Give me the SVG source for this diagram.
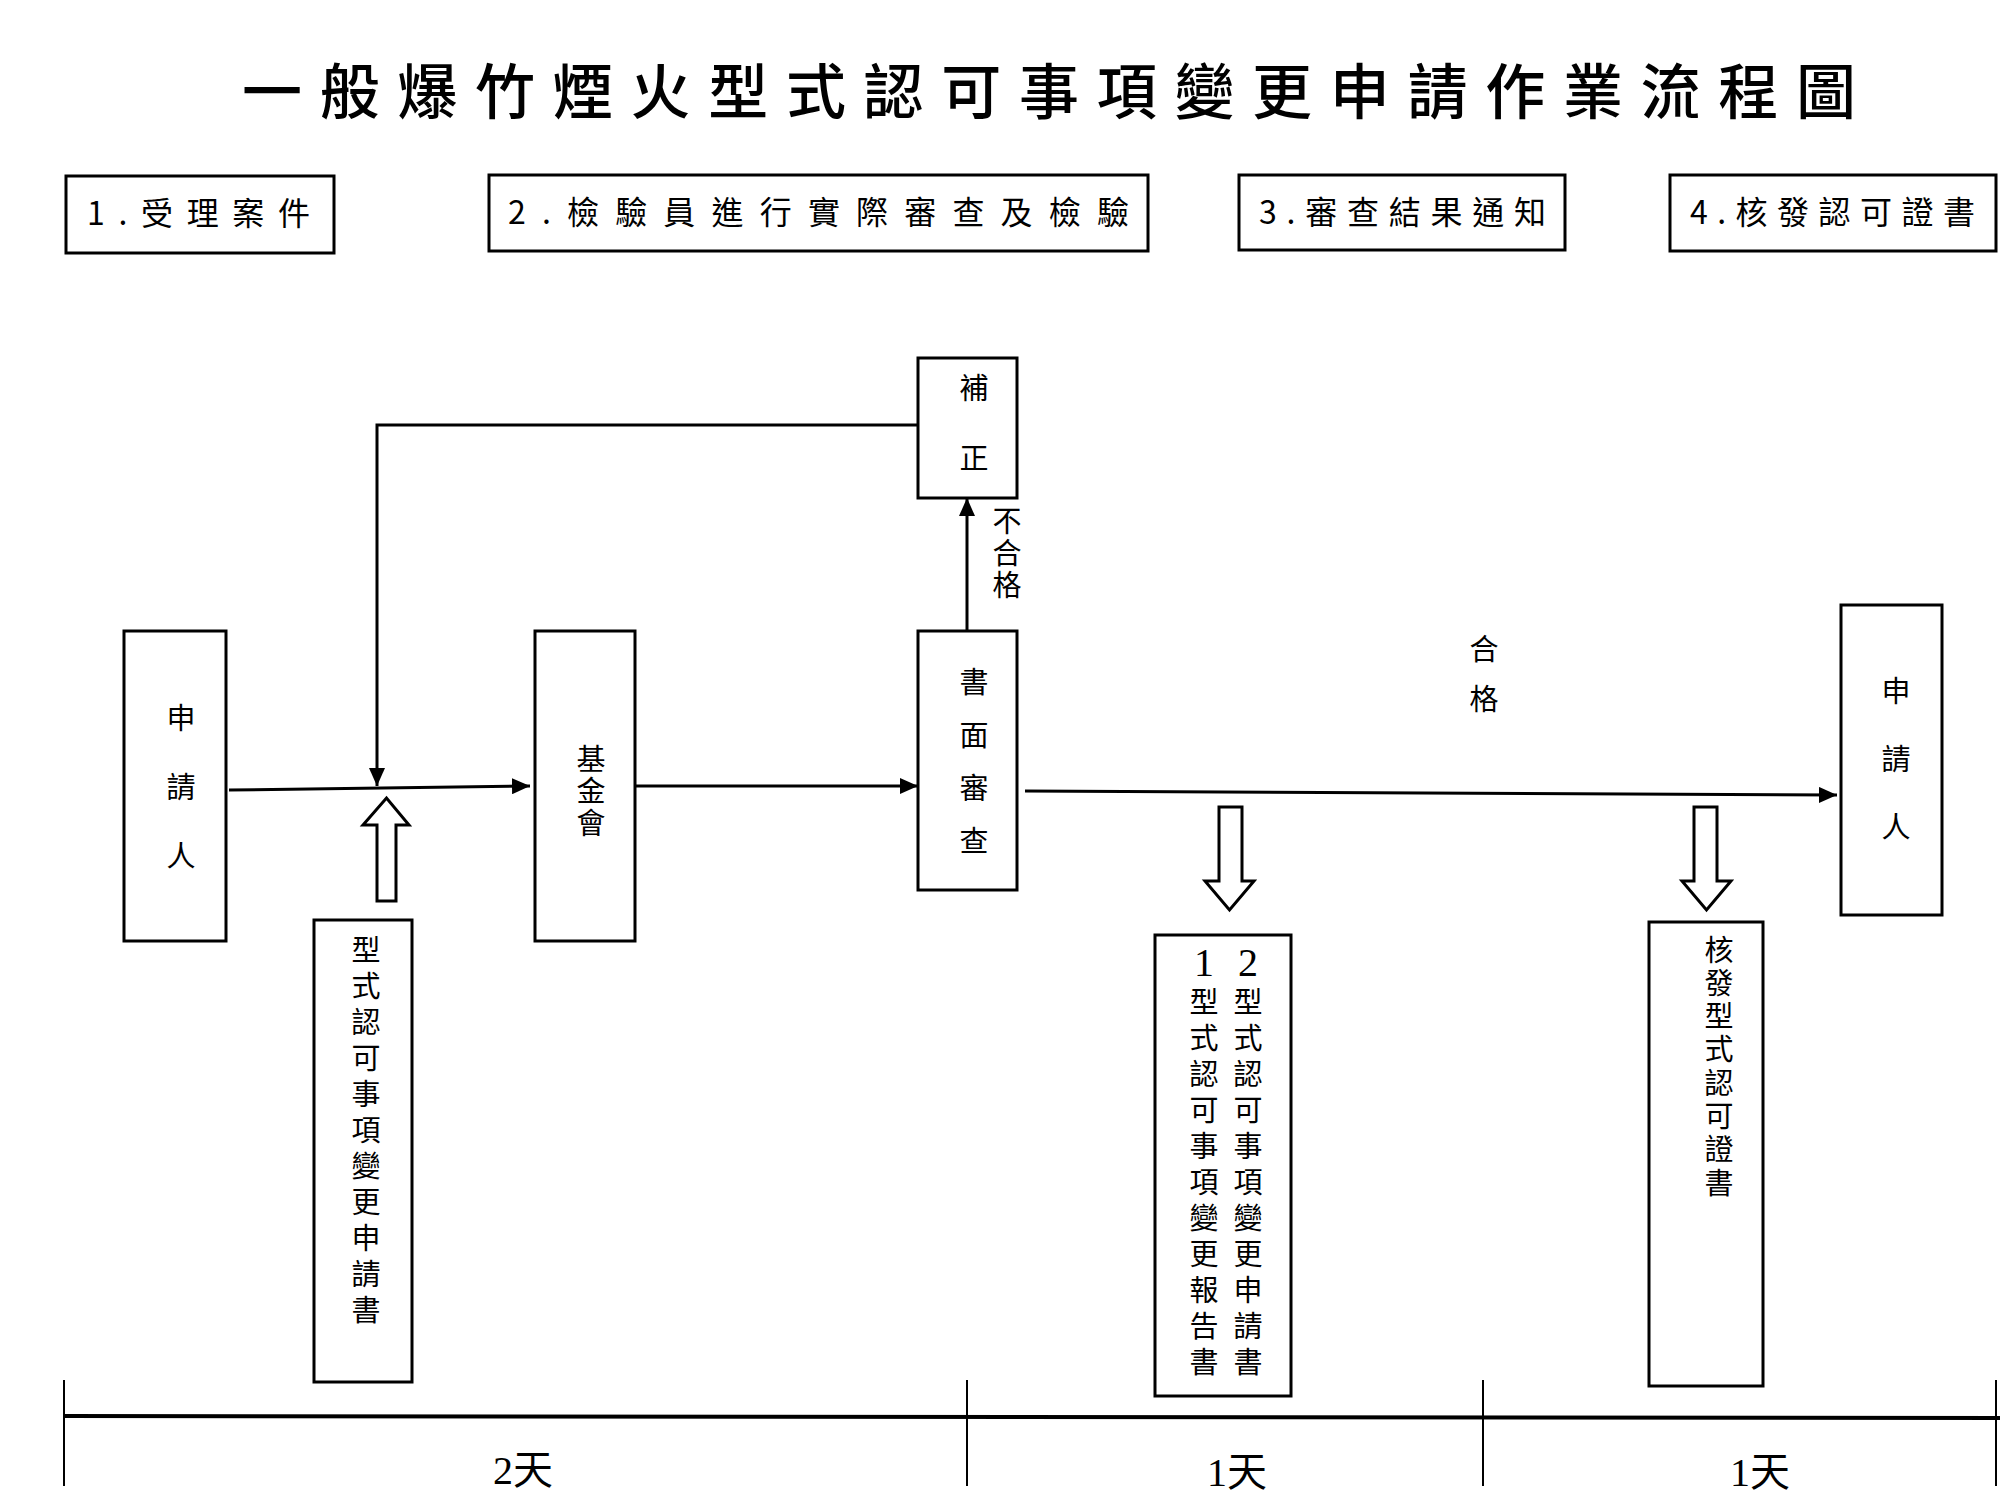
<svg xmlns="http://www.w3.org/2000/svg" width="2000" height="1500" viewBox="0 0 2000 1500">
<style>
text{font-family:"Noto Sans CJK TC","Noto Sans CJK SC",sans-serif;fill:#000}
.box{fill:#fff;stroke:#000;stroke-width:3}
.hdr{font-size:32px}
.vt{font-size:29px;writing-mode:vertical-rl;text-orientation:upright}
.ln{fill:none;stroke:#000;stroke-width:3}
.hollow{fill:#fff;stroke:#000;stroke-width:3;stroke-linejoin:miter}
.num{font-family:"Liberation Serif",serif}
.day{font-size:40px;text-anchor:middle}
</style>
<defs>
<marker id="ah" viewBox="0 0 18 16" refX="18" refY="8" markerWidth="18" markerHeight="16" markerUnits="userSpaceOnUse" orient="auto">
<path d="M0,0 L18,8 L0,16 Z" fill="#000"/>
</marker>
</defs>
<rect width="2000" height="1500" fill="#fff"/>

<g id="title">
<text x="242" y="114" font-size="60" font-weight="500" textLength="1614" lengthAdjust="spacing">一般爆竹煙火型式認可事項變更申請作業流程圖</text>
</g>

<g id="header1"><rect class="box" x="66" y="176" width="268" height="77"/><text class="hdr" x="87" y="225" textLength="223" lengthAdjust="spacing">1.受理案件</text></g>
<g id="header2"><rect class="box" x="489" y="175" width="659" height="76"/><text class="hdr" x="508" y="224" textLength="621" lengthAdjust="spacing">2.檢驗員進行實際審查及檢驗</text></g>
<g id="header3"><rect class="box" x="1239" y="175" width="326" height="75"/><text class="hdr" x="1259" y="224" textLength="287" lengthAdjust="spacing">3.審查結果通知</text></g>
<g id="header4"><rect class="box" x="1670" y="175" width="326" height="76"/><text class="hdr" x="1690" y="224" textLength="285" lengthAdjust="spacing">4.核發認可證書</text></g>

<g id="connectors">
<path class="ln" d="M229,790 L530,786" marker-end="url(#ah)"/>
<path class="ln" d="M918,425 L377,425 L377,786" marker-end="url(#ah)"/>
<path class="ln" d="M635,786 L918,786" marker-end="url(#ah)"/>
<path class="ln" d="M967,631 L967,498" marker-end="url(#ah)"/>
<path class="ln" d="M1025,791 L1837,795" marker-end="url(#ah)"/>
<polygon class="hollow" points="377,901 396,901 396,825 409,825 386.5,798 363,825 377,825"/>
<polygon class="hollow" points="1219,807 1242,807 1242,881 1254,881 1229.5,910 1205,881 1219,881"/>
<polygon class="hollow" points="1694,807 1717,807 1717,881 1731,881 1706.5,910 1682,881 1694,881"/>
<text class="vt" x="1007" y="506" letter-spacing="3">不合格</text>
<text class="vt" x="1484" y="634" letter-spacing="21">合格</text>
</g>

<g id="applicant1">
<rect class="box" x="124" y="631" width="102" height="310"/>
<text class="vt" x="181" y="703" letter-spacing="40">申請人</text>
</g>

<g id="fund">
<rect class="box" x="535" y="631" width="100" height="310"/>
<text class="vt" x="591" y="744" letter-spacing="3">基金會</text>
</g>

<g id="review">
<rect class="box" x="918" y="631" width="99" height="259"/>
<text class="vt" x="974" y="667" letter-spacing="24">書面審查</text>
</g>

<g id="correction">
<rect class="box" x="918" y="358" width="99" height="140"/>
<text class="vt" x="974" y="373" letter-spacing="41">補正</text>
</g>

<g id="applicant2">
<rect class="box" x="1841" y="605" width="101" height="310"/>
<text class="vt" x="1896" y="676" letter-spacing="39">申請人</text>
</g>

<g id="form">
<rect class="box" x="314" y="920" width="98" height="462"/>
<text class="vt" x="366" y="935" letter-spacing="7">型式認可事項變更申請書</text>
</g>

<g id="docs">
<rect class="box" x="1155" y="935" width="136" height="461"/>
<text class="num" x="1204" y="976" font-size="40" text-anchor="middle">1</text>
<text class="vt" x="1204" y="987" letter-spacing="7">型式認可事項變更報告書</text>
<text class="num" x="1248" y="976" font-size="40" text-anchor="middle">2</text>
<text class="vt" x="1248" y="987" letter-spacing="7">型式認可事項變更申請書</text>
</g>

<g id="certificate">
<rect class="box" x="1649" y="922" width="114" height="464"/>
<text class="vt" x="1719" y="935" letter-spacing="4.3">核發型式認可證書</text>
</g>

<g id="timeline">
<line x1="64" y1="1416" x2="2000" y2="1418" stroke="#000" stroke-width="4"/>
<line x1="64" y1="1380" x2="64" y2="1486" stroke="#000" stroke-width="2"/>
<line x1="967" y1="1380" x2="967" y2="1486" stroke="#000" stroke-width="2"/>
<line x1="1483" y1="1380" x2="1483" y2="1486" stroke="#000" stroke-width="2"/>
<line x1="1996" y1="1380" x2="1996" y2="1486" stroke="#000" stroke-width="2"/>
<text class="day" x="523" y="1484"><tspan class="num">2</tspan>天</text>
<text class="day" x="1237" y="1486"><tspan class="num">1</tspan>天</text>
<text class="day" x="1760" y="1486"><tspan class="num">1</tspan>天</text>
</g>
</svg>
